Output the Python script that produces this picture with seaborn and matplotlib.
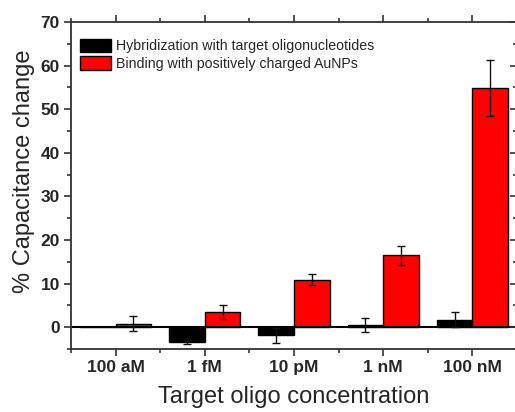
import numpy as np
import pandas as pd
import matplotlib
matplotlib.use("Agg")
import matplotlib.pyplot as plt
import seaborn as sns
from matplotlib.ticker import MultipleLocator, FixedLocator

categories = ["100 aM", "1 fM", "10 pM", "1 nM", "100 nM"]
series_names = ["Hybridization with target oligonucleotides",
                "Binding with positively charged AuNPs"]
hybrid_vals = [0.0, -3.3, -1.9, 0.6, 1.7]
hybrid_err = [0.0, 0.6, 1.7, 1.6, 1.7]
binding_vals = [0.8, 3.4, 10.9, 16.5, 54.8]
binding_err = [1.7, 1.6, 1.3, 2.2, 6.4]
yticks = [0, 10, 20, 30, 40, 50, 60, 70]

sns.set_theme(style="white")
plt.rcParams['font.family'] = ['Liberation Sans', 'DejaVu Sans']

df = pd.DataFrame({
    "conc": categories * 2,
    "series": [series_names[0]] * 5 + [series_names[1]] * 5,
    "value": hybrid_vals + binding_vals,
})

fig = plt.figure(figsize=(5.15, 4.12), dpi=100)
ax = fig.add_axes([71/515, 1 - 349/412, (517 - 71)/515, (349 - 22)/412])

sns.barplot(data=df, x="conc", y="value", hue="series", order=categories,
            hue_order=series_names, palette=["black", "#ff0000"], saturation=1,
            edgecolor="black", linewidth=1.0, errorbar=None, width=0.8,
            ax=ax, zorder=2)

# error bars at bar centres
patches = [p for p in ax.patches if p.get_width() > 0]
errs = hybrid_err + binding_err
vals = hybrid_vals + binding_vals
for p, v, e in zip(patches, vals, errs):
    if e > 0:
        cx = p.get_x() + p.get_width() / 2
        ax.errorbar(cx, v, yerr=e, color="#111111", lw=1.0, capsize=3,
                    capthick=1.0, zorder=3)

ax.axhline(0, color="black", lw=1.5, zorder=2.5)

ax.set_xlim(-0.5, 4.5)
ax.set_ylim(-5, 70)
ax.yaxis.set_major_locator(FixedLocator(yticks))
ax.yaxis.set_minor_locator(MultipleLocator(5))
ax.xaxis.set_minor_locator(FixedLocator(np.arange(-0.5, 5, 1.0)))

for s in ["left", "bottom", "top"]:
    ax.spines[s].set_color("#333333")
    ax.spines[s].set_linewidth(1.3)
ax.spines["right"].set_visible(False)

ax.tick_params(axis="both", which="major", direction="out", length=5,
               width=1.2, color="#333333", labelsize=12.5, pad=3)
ax.tick_params(axis="both", which="minor", direction="out", length=3,
               width=1.2, color="#333333")
ax.tick_params(axis="x", which="both", top=True, bottom=True)
ax.tick_params(axis="y", which="both", left=True, right=False)
for lab in ax.get_xticklabels() + ax.get_yticklabels():
    lab.set_fontweight("bold")

ax2 = ax.twinx()
ax2.set_ylim(-5, 70)
ax2.yaxis.set_major_locator(FixedLocator(yticks))
ax2.yaxis.set_minor_locator(MultipleLocator(5))
ax2.tick_params(axis="y", which="major", direction="in", length=5, width=1.2,
                color="#333333", labelright=False)
ax2.tick_params(axis="y", which="minor", direction="in", length=3, width=1.2,
                color="#333333")
for s in ax2.spines.values():
    s.set_visible(False)

ax.set_xlabel("Target oligo concentration", fontsize=17, labelpad=8)
ax.set_ylabel("% Capacitance change", fontsize=17, labelpad=4)
ax.yaxis.label.set_y(0.545)

leg = ax.legend(loc="upper left", bbox_to_anchor=(0, 1 - 8/327), frameon=False,
                fontsize=10.2, handlelength=2.2, handleheight=1.13,
                labelspacing=0.2, handletextpad=0.35, borderaxespad=0.3,
                borderpad=0.3)

fig.savefig("out.png", dpi=100)
